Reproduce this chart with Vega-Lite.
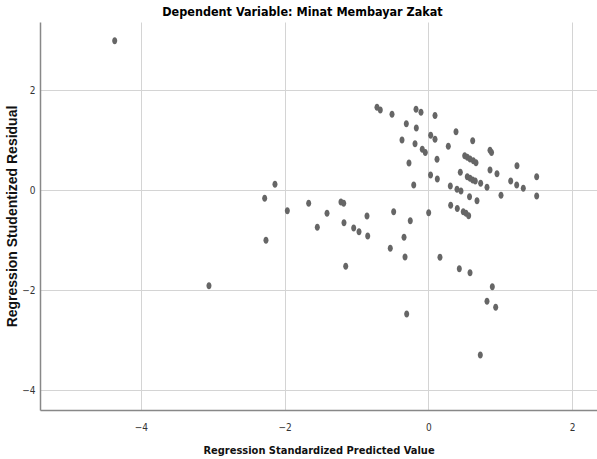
{
  "$schema": "https://vega.github.io/schema/vega-lite/v6.json",
  "width": 557,
  "height": 388,
  "autosize": {"type": "none"},
  "padding": {"left": 40, "top": 22, "right": 0, "bottom": 49},
  "title": {"text": "Dependent Variable: Minat Membayar Zakat", "fontSize": 12.5, "fontWeight": "bold", "font": "DejaVu Sans Condensed, sans-serif", "color": "#000000", "offset": 4, "dx": -16, "anchor": "middle"},
  "config": {"view": {"stroke": null}},
  "data": {"values": [
    {"pred": -4.363, "resid": 2.986},
    {"pred": -3.052, "resid": -1.914},
    {"pred": -2.134, "resid": 0.114},
    {"pred": -2.277, "resid": -0.166},
    {"pred": -2.259, "resid": -1.006},
    {"pred": -1.962, "resid": -0.414},
    {"pred": -1.665, "resid": -0.266},
    {"pred": -1.545, "resid": -0.746},
    {"pred": -1.41, "resid": -0.466},
    {"pred": -1.216, "resid": -0.24},
    {"pred": -1.178, "resid": -0.266},
    {"pred": -1.174, "resid": -0.654},
    {"pred": -1.15, "resid": -1.526},
    {"pred": -1.039, "resid": -0.76},
    {"pred": -0.965, "resid": -0.834},
    {"pred": -0.854, "resid": -0.52},
    {"pred": -0.844, "resid": -0.92},
    {"pred": -0.53, "resid": -1.166},
    {"pred": -0.483, "resid": -0.434},
    {"pred": -0.339, "resid": -0.946},
    {"pred": -0.325, "resid": -1.34},
    {"pred": -0.252, "resid": -0.614},
    {"pred": -0.27, "resid": 0.54},
    {"pred": -0.204, "resid": 0.1},
    {"pred": 0.004, "resid": -0.454},
    {"pred": 0.03, "resid": 0.3},
    {"pred": -0.302, "resid": -2.48},
    {"pred": -0.715, "resid": 1.654},
    {"pred": -0.669, "resid": 1.6},
    {"pred": -0.506, "resid": 1.514},
    {"pred": -0.172, "resid": 1.614},
    {"pred": -0.103, "resid": 1.554},
    {"pred": 0.092, "resid": 1.49},
    {"pred": -0.307, "resid": 1.326},
    {"pred": -0.168, "resid": 1.24},
    {"pred": 0.032, "resid": 1.094},
    {"pred": 0.092, "resid": 1.014},
    {"pred": -0.367, "resid": 1.0},
    {"pred": -0.186, "resid": 0.926},
    {"pred": -0.085, "resid": 0.814},
    {"pred": -0.043, "resid": 0.75},
    {"pred": 0.12, "resid": 0.614},
    {"pred": 0.124, "resid": 0.22},
    {"pred": 0.384, "resid": 1.166},
    {"pred": 0.616, "resid": 0.986},
    {"pred": 0.277, "resid": 0.874},
    {"pred": 0.857, "resid": 0.794},
    {"pred": 0.878, "resid": 0.75},
    {"pred": 0.505, "resid": 0.686},
    {"pred": 0.541, "resid": 0.654},
    {"pred": 0.579, "resid": 0.62},
    {"pred": 0.625, "resid": 0.586},
    {"pred": 0.662, "resid": 0.546},
    {"pred": 1.232, "resid": 0.486},
    {"pred": 0.857, "resid": 0.4},
    {"pred": 0.954, "resid": 0.326},
    {"pred": 0.444, "resid": 0.354},
    {"pred": 0.541, "resid": 0.266},
    {"pred": 0.579, "resid": 0.234},
    {"pred": 0.616, "resid": 0.2},
    {"pred": 0.652, "resid": 0.18},
    {"pred": 1.506, "resid": 0.266},
    {"pred": 0.305, "resid": 0.08},
    {"pred": 0.398, "resid": 0.014},
    {"pred": 0.453, "resid": -0.02},
    {"pred": 0.727, "resid": 0.134},
    {"pred": 0.815, "resid": 0.054},
    {"pred": 1.145, "resid": 0.18},
    {"pred": 1.228, "resid": 0.1},
    {"pred": 1.32, "resid": 0.034},
    {"pred": 1.01, "resid": -0.106},
    {"pred": 1.506, "resid": -0.12},
    {"pred": 0.572, "resid": -0.134},
    {"pred": 0.676, "resid": -0.214},
    {"pred": 0.31, "resid": -0.306},
    {"pred": 0.402, "resid": -0.37},
    {"pred": 0.485, "resid": -0.434},
    {"pred": 0.523, "resid": -0.466},
    {"pred": 0.56, "resid": -0.514},
    {"pred": 0.161, "resid": -1.346},
    {"pred": 0.43, "resid": -1.574},
    {"pred": 0.579, "resid": -1.654},
    {"pred": 0.889, "resid": -1.934},
    {"pred": 0.815, "resid": -2.226},
    {"pred": 0.936, "resid": -2.346},
    {"pred": 0.722, "resid": -3.3}
  ]},
  "mark": {"type": "point", "filled": true, "shape": "M0,-1A0.72,1 0 1,1 0,1A0.72,1 0 1,1 0,-1Z", "size": 49, "color": "#666666", "opacity": 1},
  "encoding": {
    "x": {"field": "pred", "type": "quantitative",
      "scale": {"domain": [-5.402, 2.345], "nice": false, "zero": false},
      "axis": {"values": [-4, -2, 0, 2], "title": "Regression Standardized Predicted Value", "grid": true, "gridColor": "#d4d4d4", "gridWidth": 1, "domainColor": "#888888", "domainWidth": 1.5, "ticks": false, "labelPadding": 12, "labelFontSize": 10, "labelColor": "#333333", "labelFont": "DejaVu Sans Condensed, sans-serif", "titleFont": "DejaVu Sans Condensed, sans-serif", "titleFontSize": 11, "titleFontWeight": "bold", "titleColor": "#111111", "titlePadding": 12}},
    "y": {"field": "resid", "type": "quantitative",
      "scale": {"domain": [-4.4, 3.36], "nice": false, "zero": false},
      "axis": {"values": [-4, -2, 0, 2], "title": "Regression Studentized Residual", "grid": true, "gridColor": "#d4d4d4", "gridWidth": 1, "domainColor": "#888888", "domainWidth": 1.5, "ticks": false, "labelPadding": 5, "labelFontSize": 10, "labelColor": "#333333", "labelFont": "DejaVu Sans Condensed, sans-serif", "titleFont": "Liberation Sans, Arial, sans-serif", "titleFontSize": 14, "titleFontWeight": "bold", "titleColor": "#111111", "titlePadding": 2}}
  }
}
